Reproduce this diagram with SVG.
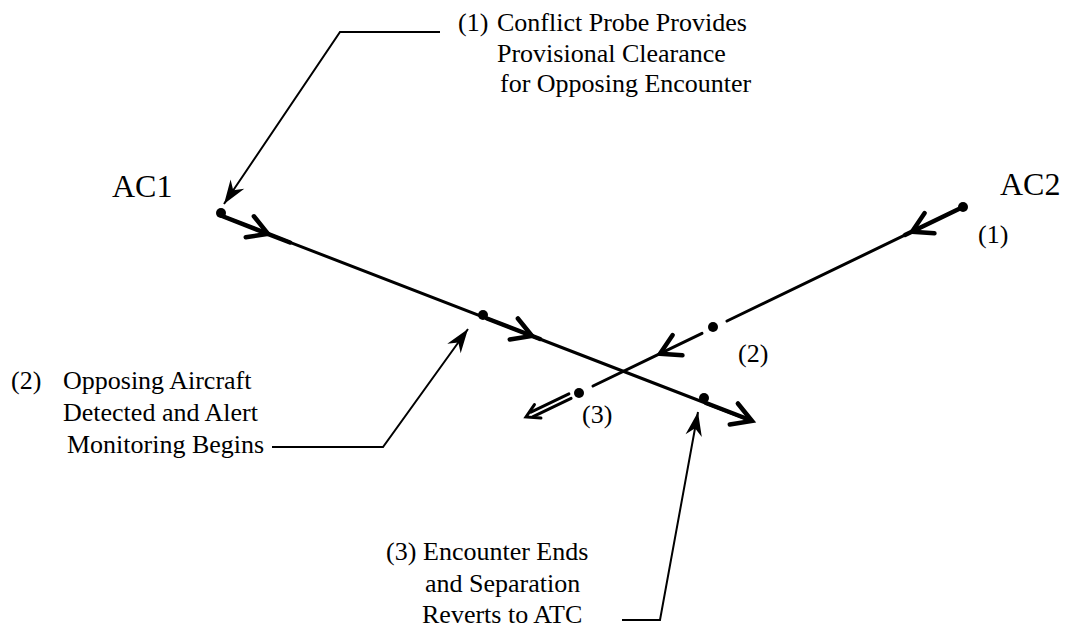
<svg xmlns="http://www.w3.org/2000/svg" xmlns:xlink="http://www.w3.org/1999/xlink" width="1067" height="630" viewBox="0 0 1067 630">
  <style>
    text { font-family: "Liberation Serif", "Times New Roman", serif; font-size: 26px; fill: #000; }
    .ac { font-size: 32px; }
    .track { fill: none; stroke: #000; stroke-width: 3; stroke-linecap: round; stroke-linejoin: round; }
    .thick { fill: none; stroke: #000; stroke-width: 4.5; stroke-linecap: round; }
    .callout { fill: none; stroke: #000; stroke-width: 2; stroke-linejoin: miter; }
    .dot { fill: #000; }
  </style>
  <defs>
    <!-- open chevron used along the flight tracks -->
    <marker id="chev" markerUnits="userSpaceOnUse" markerWidth="30" markerHeight="30" viewBox="-16 -10 20 20" refX="0" refY="0" orient="auto" overflow="visible">
      <path d="M-13,-7.5 L0,0 L-13,7.5" fill="none" stroke="#000" stroke-width="3" stroke-linecap="round" stroke-linejoin="miter"/>
    </marker>
    <!-- filled barbed head for callout leaders -->
    <marker id="barb" markerUnits="userSpaceOnUse" markerWidth="30" markerHeight="30" viewBox="-18 -8 20 16" refX="0" refY="0" orient="auto" overflow="visible">
      <path d="M0,0 L-16,-5.5 L-11,0 L-16,5.5 Z" fill="#000"/>
    </marker>
    <path id="chevShape" d="M-13,-7.5 L0,0 L-13,7.5" fill="none" stroke="#000" stroke-width="3" stroke-linecap="round"/>
  </defs>

  <!-- flight tracks -->
  <g id="connectors">
    <!-- AC1 track -->
    <polyline class="track" points="222,216 268,233.8 532,336 752,421" marker-mid="url(#chev)" marker-end="url(#chev)"/>
    <line class="thick" x1="222" y1="216" x2="290" y2="242.5"/>
    <line class="thick" x1="487" y1="318.5" x2="540" y2="339"/>
    <line class="thick" x1="706" y1="403" x2="750" y2="420"/>

    <!-- AC2 track, broken at each event point -->
    <polyline class="track" points="963,207 912,231.7 727,321" marker-mid="url(#chev)"/>
    <line class="thick" x1="963" y1="207" x2="905" y2="235"/>
    <polyline class="track" points="702,333.4 660,353.7 593,386" marker-mid="url(#chev)"/>
    <!-- double-line final leg -->
    <line class="track" x1="568.9" y1="393.8" x2="530.9" y2="412.2"/>
    <line class="track" x1="571.1" y1="398.3" x2="533.1" y2="416.7"/>
    <use xlink:href="#chevShape" transform="translate(526,417) rotate(154.2)"/>

    <!-- callout leaders -->
    <polyline class="callout" points="440,32 340,32 224,204" marker-end="url(#barb)"/>
    <polyline class="callout" points="272,447 383,447 468,329" marker-end="url(#barb)"/>
    <polyline class="callout" points="622,620 660,620 698,412" marker-end="url(#barb)"/>
  </g>

  <!-- aircraft labels and event points -->
  <g id="ac1">
    <text class="ac" x="112" y="197">AC1</text>
    <circle class="dot" cx="221" cy="213" r="5"/>
  </g>
  <g id="ac2">
    <text class="ac" x="1000" y="195">AC2</text>
    <circle class="dot" cx="963" cy="207" r="5"/>
    <text x="978" y="243">(1)</text>
  </g>
  <g id="ac1-event2">
    <circle class="dot" cx="483" cy="315" r="5"/>
  </g>
  <g id="ac1-event3">
    <circle class="dot" cx="704" cy="398" r="5"/>
  </g>
  <g id="ac2-event2">
    <circle class="dot" cx="713" cy="327" r="5"/>
    <text x="738" y="362">(2)</text>
  </g>
  <g id="ac2-event3">
    <circle class="dot" cx="579" cy="393" r="5"/>
    <text x="582" y="423">(3)</text>
  </g>

  <!-- event descriptions -->
  <g id="note1">
    <text x="458" y="31">(1)</text>
    <text x="497" y="31">Conflict Probe Provides</text>
    <text x="497" y="62">Provisional Clearance</text>
    <text x="500" y="92">for Opposing Encounter</text>
  </g>
  <g id="note2">
    <text x="11" y="389">(2)</text>
    <text x="63" y="389">Opposing Aircraft</text>
    <text x="63" y="421">Detected and Alert</text>
    <text x="67" y="453">Monitoring Begins</text>
  </g>
  <g id="note3">
    <text x="386" y="560">(3)</text>
    <text x="423" y="560">Encounter Ends</text>
    <text x="425" y="592">and Separation</text>
    <text x="422" y="623">Reverts to ATC</text>
  </g>
</svg>
